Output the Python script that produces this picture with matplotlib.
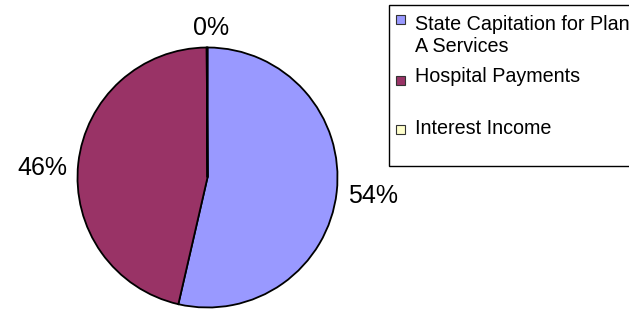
import matplotlib
matplotlib.use("Agg")
import matplotlib.pyplot as plt
import matplotlib.patches as mpatches
import numpy as np

# ── data ──────────────────────────────────────────────────────────────────────
categories = ["State Capitation for Plan\nA Services", "Hospital Payments", "Interest Income"]
shares     = [53.6, 46.3, 0.1]
pct_labels = ["54%", "46%", "0%"]
colors     = ["#9999FF", "#993366", "#FFFFCC"]

W, H = 629, 310
plt.rcParams["font.family"] = ["Liberation Sans", "DejaVu Sans"]

fig = plt.figure(figsize=(W / 100, H / 100), dpi=100)
ax = fig.add_axes([0, 0, 1, 1])

# pie, drawn in pixel units so the geometry is easy to line up
cx, cy, r = 207.5, H - 177.5, 130
wedges, _ = ax.pie(shares, colors=colors, startangle=90, counterclock=False,
                   center=(cx, cy), radius=r, frame=True,
                   wedgeprops=dict(edgecolor="black", linewidth=1.3))
ax.set_xlim(0, W)
ax.set_ylim(0, H)
ax.axis("off")

# percentage labels outside each wedge (Excel nudges them a bit)
label_dist = [1.28, 1.28, 1.15]
nudge = [(0, 0), (0, -9), (4, 0)]
for w, lab, d, (dx, dy) in zip(wedges, pct_labels, label_dist, nudge):
    th = np.deg2rad((w.theta1 + w.theta2) / 2)
    ax.text(cx + r * d * np.cos(th) + dx, cy + r * d * np.sin(th) + dy, lab,
            ha="center", va="center", fontsize=18, color="black")

# legend box (Excel style, runs off the right edge)
ax.add_patch(mpatches.Rectangle((389, H - 166), 260, 161, facecolor="white",
                                edgecolor="black", linewidth=1.0, clip_on=False))
entry_y = [35.5, 76, 128]      # text centres, px from top
marker_y = [19.5, 80.5, 129]
for lab, col, ty, my in zip(categories, colors, entry_y, marker_y):
    ax.add_patch(mpatches.Rectangle((396, H - my - 4.5), 9, 9, facecolor=col,
                                    edgecolor="#333333", linewidth=0.8))
    ax.text(415, H - ty, lab, ha="left", va="center", fontsize=14.2,
            linespacing=1.25, color="black")

fig.savefig("out.png", dpi=100)
